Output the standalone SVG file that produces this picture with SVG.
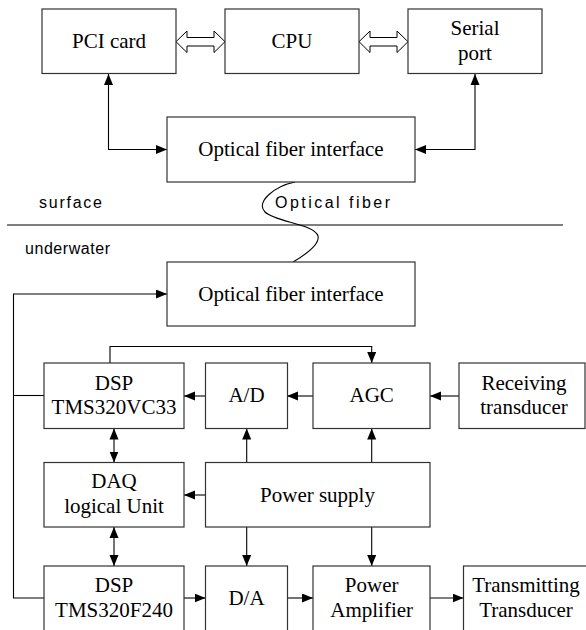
<svg xmlns="http://www.w3.org/2000/svg" width="586" height="630" viewBox="0 0 586 630">
<defs>
<marker id="ah" markerWidth="12" markerHeight="10" refX="11" refY="4.5" orient="auto" markerUnits="userSpaceOnUse">
<path d="M0,0 L11,4.5 L0,9 Z" fill="#000"/>
</marker>
<marker id="as" markerWidth="12" markerHeight="10" refX="0" refY="4.5" orient="auto" markerUnits="userSpaceOnUse">
<path d="M11,0 L0,4.5 L11,9 Z" fill="#000"/>
</marker>
<style>
.box{fill:#fff;stroke:#333;stroke-width:1.2}
.t{font-family:"Liberation Serif","Times New Roman",serif;font-size:21px;fill:#000;text-anchor:middle}
.s{font-family:"Liberation Sans",Arial,sans-serif;font-size:16px;fill:#000}
.c{fill:none;stroke:#000;stroke-width:1.1}
.ar{marker-end:url(#ah)}
.ar2{marker-end:url(#ah);marker-start:url(#as)}
.dbl{fill:#fff;stroke:#000;stroke-width:1}
</style>
</defs>
<rect width="586" height="630" fill="#fff"/>

<g id="connectors">
<polygon class="dbl" points="176,41.7 187,31 187,37.5 214,37.5 214,31 225,41.7 214,52.5 214,46 187,46 187,52.5"/>
<polygon class="dbl" points="359,41.7 370,31 370,37.5 397,37.5 397,31 408,41.7 397,52.5 397,46 370,46 370,52.5"/>
<path class="c ar2" d="M108.5,74 L108.5,149.5 L167,149.5"/>
<path class="c ar2" d="M475,74 L475,149.5 L415,149.5"/>
<path class="c" d="M295,182 C275,186 255,202 265,212 C275,222 315,224 318,236 C320,245 305,255 293,262"/>
<line class="c" x1="7" y1="225" x2="563" y2="225"/>
<path class="c ar" d="M44,598 L13.5,598 L13.5,294 L167,294"/>
<line class="c" x1="13.5" y1="395.5" x2="44" y2="395.5"/>
<path class="c ar" d="M110,363 L110,346.5 L371.7,346.5 L371.7,363"/>
<line class="c ar" x1="205" y1="396" x2="184" y2="396"/>
<line class="c ar" x1="313" y1="396" x2="287" y2="396"/>
<line class="c ar" x1="459" y1="396" x2="430" y2="396"/>
<line class="c ar2" x1="114" y1="428.5" x2="114" y2="462.5"/>
<line class="c ar" x1="246.7" y1="462.5" x2="246.7" y2="428.5"/>
<line class="c ar" x1="371.7" y1="462.5" x2="371.7" y2="428.5"/>
<line class="c ar" x1="205.5" y1="495" x2="184" y2="495"/>
<line class="c ar2" x1="114" y1="527" x2="114" y2="566"/>
<line class="c ar" x1="246.7" y1="527" x2="246.7" y2="566"/>
<line class="c ar" x1="371.7" y1="527" x2="371.7" y2="566"/>
<line class="c ar" x1="184" y1="598" x2="205.5" y2="598"/>
<line class="c ar" x1="287" y1="598" x2="313" y2="598"/>
<line class="c ar" x1="430" y1="598" x2="463.5" y2="598"/>
</g>

<g id="pci"><rect class="box" x="42" y="9" width="134" height="64.5"/><text class="t" x="109" y="48">PCI card</text></g>
<g id="cpu"><rect class="box" x="225" y="9" width="134" height="64.5"/><text class="t" x="292" y="48">CPU</text></g>
<g id="serial"><rect class="box" x="408" y="9" width="134" height="64.5"/><text class="t" x="475" y="35">Serial</text><text class="t" x="475" y="60">port</text></g>
<g id="ofi-top"><rect class="box" x="167" y="117" width="248" height="65"/><text class="t" x="291" y="156">Optical fiber interface</text></g>

<g id="labels">
<text class="s" x="39" y="208" textLength="63" lengthAdjust="spacing">surface</text>
<text class="s" x="275" y="208" textLength="115" lengthAdjust="spacing">Optical fiber</text>
<text class="s" x="25" y="254" textLength="85" lengthAdjust="spacing">underwater</text>
</g>

<g id="ofi-bottom"><rect class="box" x="167" y="262" width="248" height="64"/><text class="t" x="291" y="301">Optical fiber interface</text></g>

<g id="dsp-vc33"><rect class="box" x="44" y="363" width="140" height="65.5"/><text class="t" x="114" y="390">DSP</text><text class="t" x="114" y="414">TMS320VC33</text></g>
<g id="ad"><rect class="box" x="205.5" y="363" width="82" height="65.5"/><text class="t" x="246.5" y="402">A/D</text></g>
<g id="agc"><rect class="box" x="313" y="363" width="117" height="65.5"/><text class="t" x="371.7" y="402">AGC</text></g>
<g id="receiving"><rect class="box" x="459" y="363" width="126" height="65.5"/><text class="t" x="524" y="390">Receiving</text><text class="t" x="524" y="414">transducer</text></g>

<g id="daq"><rect class="box" x="44" y="462.5" width="140" height="64.5"/><text class="t" x="114" y="488">DAQ</text><text class="t" x="114" y="513">logical Unit</text></g>
<g id="power"><rect class="box" x="205.5" y="462.5" width="224.5" height="64.5"/><text class="t" x="317.5" y="502">Power supply</text></g>

<g id="dsp-f240"><rect class="box" x="44" y="566" width="140" height="80"/><text class="t" x="114" y="592">DSP</text><text class="t" x="114" y="617">TMS320F240</text></g>
<g id="da"><rect class="box" x="205.5" y="566" width="82" height="80"/><text class="t" x="246.5" y="605">D/A</text></g>
<g id="pa"><rect class="box" x="313" y="566" width="117" height="80"/><text class="t" x="371.7" y="592">Power</text><text class="t" x="371.7" y="617">Amplifier</text></g>
<g id="tt"><rect class="box" x="463.5" y="566" width="125" height="80"/><text class="t" x="526" y="592">Transmitting</text><text class="t" x="526" y="617">Transducer</text></g>
</svg>
